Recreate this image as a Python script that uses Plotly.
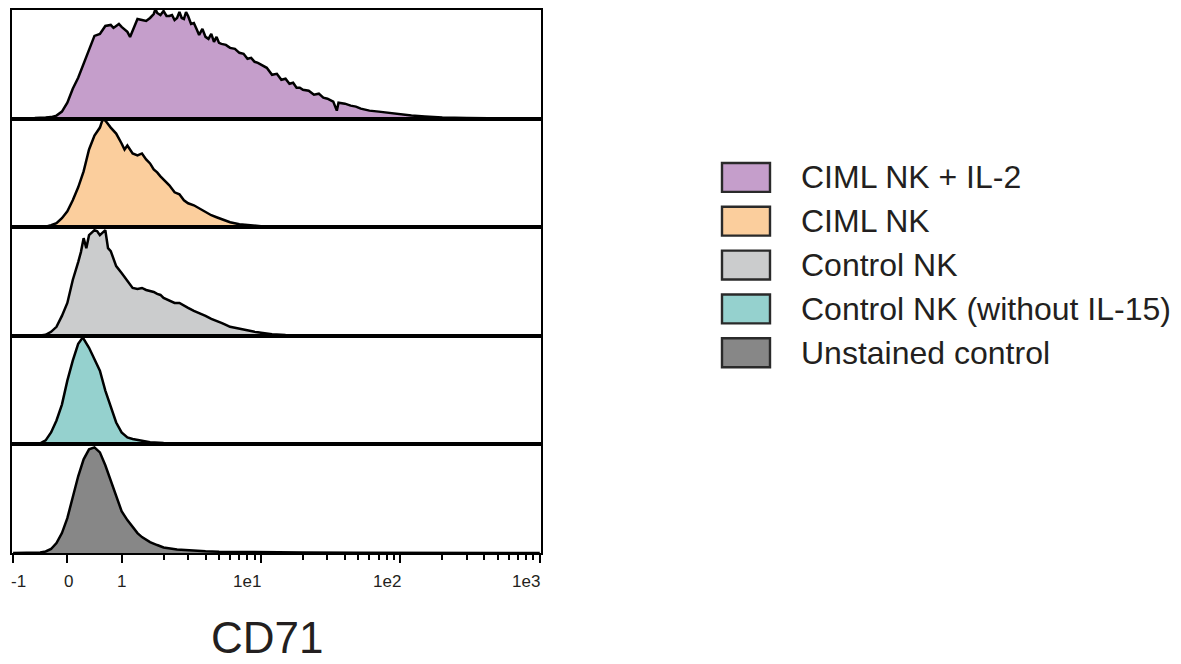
import numpy as np
import plotly.graph_objects as go
from plotly.subplots import make_subplots

# ---------------- data (CD71 fluorescence value -> relative count) ----------------
SERIES_NAMES = ["CIML NK + IL-2", "CIML NK", "Control NK",
                "Control NK (without IL-15)", "Unstained control"]

X_CIML_IL2 = [-1.0, -0.8, -0.6, -0.4, -0.3, -0.2, -0.1, 0.0, 0.1, 0.2, 0.3, 0.4, 0.5, 0.6, 0.7, 0.8,
              0.85, 0.9, 0.95, 1.0, 1.1, 1.15, 1.2, 1.3, 1.4, 1.5, 1.6, 1.7, 1.75, 1.8, 1.9,
              2.0, 2.1, 2.2, 2.3, 2.4, 2.5, 2.6, 2.7, 2.8, 2.9, 3.0,
              3.15, 3.3, 3.45, 3.6, 3.8, 4.0, 4.2, 4.4, 4.6, 4.8, 5.0, 5.2,
              5.6, 6.0, 6.5, 7.0, 7.5, 8.0, 8.5, 9.0, 9.5, 10,
              11, 12, 13, 14, 15, 16, 17, 18, 19, 20,
              22, 24, 26, 28, 30, 33, 35, 36, 40, 44, 48, 52, 56, 60,
              70, 80, 90, 100, 120, 150, 200, 300, 500, 1000]
Y_CIML_IL2 = [0, 0, 0.5, 1, 1.5, 3, 7, 16, 30, 41, 55, 68, 83, 85, 93, 94,
              91, 93, 95, 92, 87, 82, 88, 100, 99, 98, 101, 105, 110, 106, 104,
              108, 103, 103, 104, 99, 101, 107, 101, 100, 107, 103,
              95, 96, 90, 84, 90, 82, 80, 85, 77, 82, 76, 75,
              74, 71, 70, 66, 65, 60, 61, 57, 56, 54,
              51, 44, 45, 39, 40, 35, 36, 31, 31, 29,
              28, 24, 25, 21, 20, 17, 8, 16, 15, 13, 12, 10, 9, 8,
              7, 6, 5, 4.5, 3, 2, 1, 0.5, 0.2, 0]

X_CIML = [-1.0, -0.6, -0.4, -0.3, -0.2, -0.1, 0.0, 0.1, 0.2, 0.3, 0.4, 0.5, 0.6, 0.65, 0.7, 0.8, 0.9,
          1.0, 1.05, 1.1, 1.2, 1.3, 1.4, 1.5, 1.6, 1.7, 1.8, 1.9, 2.0, 2.2, 2.4, 2.6, 2.8,
          3.0, 3.3, 3.6, 4.0, 4.4, 4.8, 5.2, 5.6, 6.0, 7, 8, 10, 13, 20, 30, 1000]
Y_CIML = [0, 0, 0.5, 2, 4, 9, 16, 27, 40, 56, 78, 92, 100, 108, 107, 100, 94,
          84, 78, 82, 74, 72, 74, 68, 64, 58, 55, 51, 48, 42, 35, 33, 27,
          24, 22, 19, 16, 12, 10, 8, 6.5, 5, 3, 2, 1, 0.5, 0.2, 0, 0]

X_CONTROL = [-1.0, -0.6, -0.5, -0.4, -0.3, -0.2, -0.1, 0.0, 0.1, 0.2, 0.25, 0.3, 0.35, 0.4, 0.5, 0.55,
             0.6, 0.7, 0.75, 0.8, 0.9, 1.0, 1.1, 1.2, 1.3, 1.4, 1.5, 1.6, 1.7, 1.8, 1.9, 2.0,
             2.2, 2.4, 2.6, 2.8, 3.0, 3.3, 3.6, 4.0, 4.4, 4.8, 5.2, 5.6, 6.0, 6.5, 7, 8, 9, 10,
             12, 15, 20, 30, 1000]
Y_CONTROL = [0, 0, 0.3, 1, 4, 9, 20, 33, 56, 74, 84, 98, 88, 101, 106, 105,
             101, 106, 88, 85, 70, 63, 55, 48, 47, 48, 46, 45, 44, 42, 41, 38,
             35, 33, 33, 30, 28, 25, 23, 20, 17, 14.5, 13, 11, 9, 8, 7, 5, 4, 3,
             1.5, 0.7, 0.3, 0, 0]

X_CONTROL_NO_IL15 = [-1.0, -0.6, -0.5, -0.4, -0.3, -0.2, -0.1, 0.0, 0.1, 0.2, 0.28, 0.3, 0.4, 0.5,
                     0.6, 0.7, 0.8, 0.9, 1.0, 1.1, 1.2, 1.4, 1.6, 2.0, 3.0, 5.0, 10, 1000]
Y_CONTROL_NO_IL15 = [0, 0, 1, 4, 12, 24, 40, 64, 84, 101, 107, 106, 97, 85,
                     74, 54, 37, 22, 12, 7, 5.5, 3.5, 2.2, 1.4, 0.7, 0.3, 0, 0]

X_UNSTAINED = [-1.0, -0.6, -0.5, -0.4, -0.3, -0.2, -0.1, 0.0, 0.1, 0.2, 0.3, 0.4, 0.5, 0.6, 0.7,
               0.8, 0.9, 1.0, 1.1, 1.2, 1.3, 1.4, 1.6, 1.8, 2.0, 2.5, 3.0, 4.0, 5.0, 7.0, 10,
               20, 50, 100, 1000]
Y_UNSTAINED = [0, 0, 0.5, 1.5, 4, 10, 20, 35, 57, 77, 94, 104, 106, 101, 88,
               72, 57, 42, 33, 26, 20, 16, 11, 8, 5.5, 3.5, 2.7, 1.8, 1.3, 0.9, 0.6,
               0.4, 0.2, 0.1, 0]

SERIES_X = [X_CIML_IL2, X_CIML, X_CONTROL, X_CONTROL_NO_IL15, X_UNSTAINED]
SERIES_Y = [Y_CIML_IL2, Y_CIML, Y_CONTROL, Y_CONTROL_NO_IL15, Y_UNSTAINED]
FILL_COLORS = ["#C59ECB", "#FBCE9D", "#CBCCCD", "#95D1CE", "#878787"]

TICK_VALUES = [-1, 0, 1, 10, 100, 1000]
TICK_LABELS = ["-1", "0", "1", "1e1", "1e2", "1e3"]
TICK_SHIFTS = [5, 1, 0, -14, -13, -14]
MINOR_VALUES = [2, 3, 4, 5, 6, 7, 8, 9, 20, 30, 40, 50, 60, 70, 80, 90,
                200, 300, 400, 500, 600, 700, 800, 900]

# ---------------- biexponential-like display transform ----------------
DECADE = 139.5 / 54.3  # width of one decade relative to one linear unit


def to_axis(v):
    v = np.asarray(v, dtype=float)
    return np.where(v <= 1, v, 1 + DECADE * np.log10(np.maximum(v, 1e-12)))


FONT = "Liberation Sans, Arial, Helvetica, sans-serif"
TEXT_COLOR = "#231F20"

# plot area in pixels
PL, PR, PT, PB = 12, 541, 8, 553
W, H = 1181, 664


def px_x(px):
    return (px - PL) / (PR - PL)


def px_y(py):
    return (PB - py) / (PB - PT)


fig = make_subplots(rows=5, cols=1, shared_xaxes=True, vertical_spacing=0)

for i, (xs, ys, col, name) in enumerate(zip(SERIES_X, SERIES_Y, FILL_COLORS, SERIES_NAMES)):
    fig.add_trace(go.Scatter(x=to_axis(xs), y=ys, mode="lines", name=name,
                             line=dict(color="black", width=2.5),
                             fill="tozeroy", fillcolor=col, showlegend=False,
                             hoverinfo="skip"),
                  row=i + 1, col=1)

x_range = [-1.02, 8.73]
for i in range(1, 6):
    fig.update_xaxes(range=x_range, showline=True, mirror=True, linecolor="black",
                     linewidth=2.2, showgrid=False, zeroline=False,
                     showticklabels=False, ticks="", row=i, col=1)
    fig.update_yaxes(range=[0, 109], showline=True, mirror=True, linecolor="black",
                     linewidth=2.2, showgrid=False, zeroline=False,
                     showticklabels=False, ticks="", row=i, col=1)

fig.update_xaxes(tickmode="array", tickvals=list(to_axis(TICK_VALUES)),
                 ticks="outside", ticklen=8, tickwidth=2, tickcolor="black",
                 minor=dict(tickmode="array", tickvals=list(to_axis(MINOR_VALUES)),
                            ticks="outside", ticklen=5, tickwidth=1.6, tickcolor="black"),
                 row=5, col=1)

annotations = []
for v, lab, sh in zip(TICK_VALUES, TICK_LABELS, TICK_SHIFTS):
    annotations.append(dict(x=float(to_axis(v)), xref="x5", y=px_y(582), yref="paper",
                            text=lab, showarrow=False, xanchor="center", yanchor="middle",
                            xshift=sh, font=dict(family=FONT, size=17, color=TEXT_COLOR)))
annotations.append(dict(x=px_x(267), xref="paper", y=px_y(638), yref="paper", text="CD71",
                        showarrow=False, xanchor="center", yanchor="middle",
                        font=dict(family=FONT, size=44, color=TEXT_COLOR)))

# legend drawn as swatches + labels
LEG_Y = [176, 220, 264, 308, 352]
shapes = []
for yc, col, name in zip(LEG_Y, FILL_COLORS, SERIES_NAMES):
    shapes.append(dict(type="rect", xref="paper", yref="paper",
                       x0=px_x(722), x1=px_x(770), y0=px_y(yc + 14.5), y1=px_y(yc - 14.5),
                       fillcolor=col, line=dict(color="#2a2a2a", width=2.4)))
    annotations.append(dict(x=px_x(799), xref="paper", y=px_y(yc), yref="paper", text=name,
                            showarrow=False, xanchor="left", yanchor="middle",
                            font=dict(family=FONT, size=32, color=TEXT_COLOR)))

fig.update_layout(width=W, height=H, autosize=False,
                  margin=dict(l=PL, r=W - PR, t=PT, b=H - PB, pad=0),
                  paper_bgcolor="white", plot_bgcolor="white",
                  showlegend=False, annotations=annotations, shapes=shapes,
                  font=dict(family=FONT, color=TEXT_COLOR))

fig.write_html("out.html")
